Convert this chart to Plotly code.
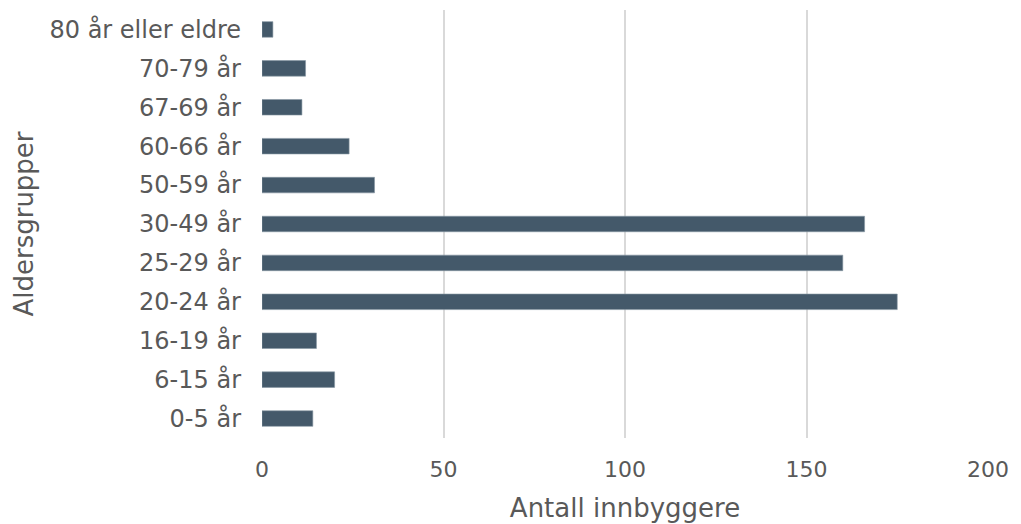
import plotly.graph_objects as go

# Age groups (bottom to top) and number of residents in each
age_groups = ["0-5 år", "6-15 år", "16-19 år", "20-24 år", "25-29 år", "30-49 år",
              "50-59 år", "60-66 år", "67-69 år", "70-79 år", "80 år eller eldre"]
residents = [14, 20, 15, 175, 160, 166, 31, 24, 11, 12, 3]
x_ticks = [0, 50, 100, 150, 200]

FONT = "DejaVu Sans"
TEXT = "#595959"

fig = go.Figure(
    go.Bar(
        x=residents,
        y=age_groups,
        orientation="h",
        marker=dict(color="#44596a", line=dict(color="#8797a3", width=0.6)),
        hoverinfo="x+y",
    )
)

fig.update_layout(
    width=1021,
    height=524,
    margin=dict(l=262, r=33, t=10, b=86),
    paper_bgcolor="white",
    plot_bgcolor="white",
    bargap=0.6,
    showlegend=False,
    font=dict(family=FONT, color=TEXT, size=24),
)

fig.update_xaxes(
    range=[0, 200],
    tickvals=x_ticks,
    showgrid=True,
    gridcolor="#d9d9d9",
    gridwidth=1.5,
    zeroline=False,
    showline=False,
    ticks="",
    ticklabelstandoff=16,
    tickfont=dict(size=22, color=TEXT),
    title=dict(text="Antall innbyggere", font=dict(size=26, color=TEXT), standoff=17),
    automargin=False,
    fixedrange=True,
)

fig.update_yaxes(
    categoryorder="array",
    categoryarray=age_groups,
    showgrid=False,
    zeroline=False,
    showline=False,
    ticks="",
    ticklabelstandoff=20,
    tickfont=dict(size=24, color=TEXT),
    title=dict(text="Aldersgrupper", font=dict(size=26, color=TEXT), standoff=8),
    automargin=False,
    fixedrange=True,
)

fig.write_html("out.html")
